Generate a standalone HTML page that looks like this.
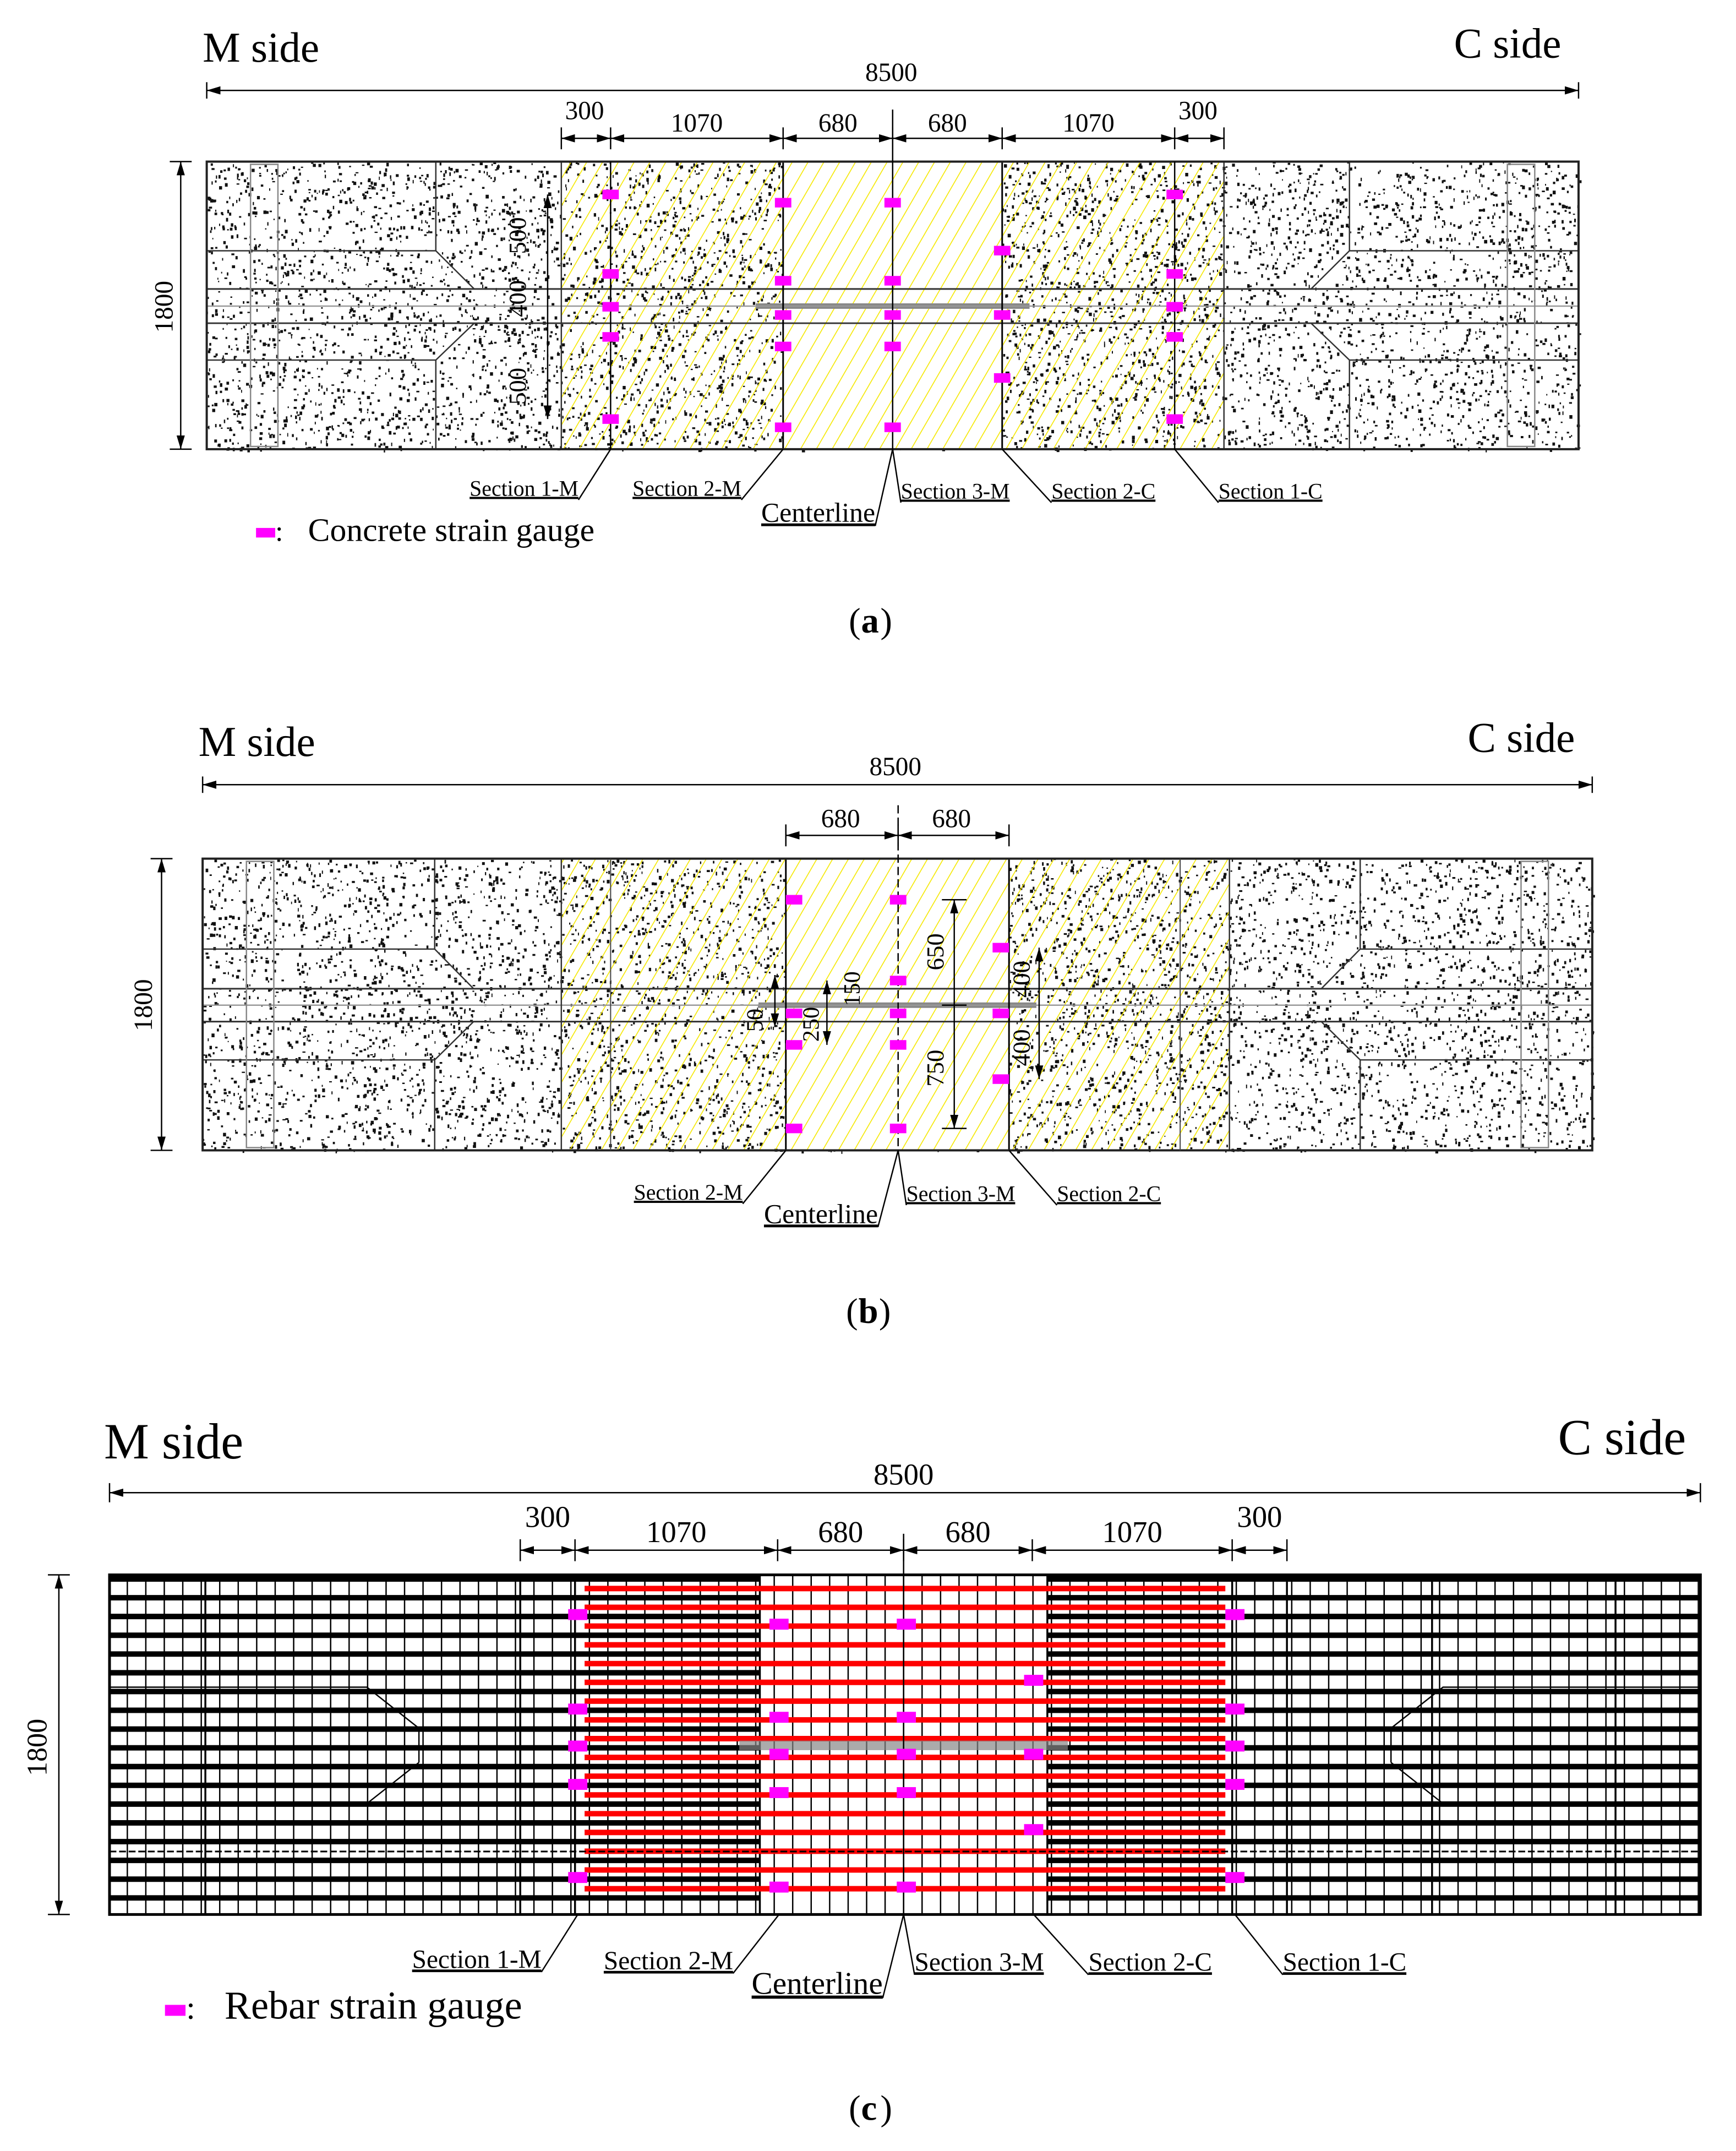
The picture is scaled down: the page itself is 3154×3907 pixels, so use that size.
<!DOCTYPE html>
<html><head><meta charset="utf-8"><style>
html,body{margin:0;padding:0;background:#fff}
svg{display:block}
text{font-family:"Liberation Serif",serif;fill:#000}
</style></head><body>
<svg id="s" xmlns="http://www.w3.org/2000/svg" width="3154" height="3907" viewBox="0 0 1268 1570.7">
<defs>
<marker id="ar" viewBox="0 0 10 6" refX="10" refY="3" markerWidth="10" markerHeight="6" orient="auto-start-reverse" markerUnits="userSpaceOnUse"><path d="M0,0L10,3L0,6z" fill="#000"/></marker>
<pattern id="hatch" patternUnits="userSpaceOnUse" width="10" height="10" patternTransform="rotate(30)"><line x1="0" y1="0" x2="0" y2="10" stroke="#f5e800" stroke-width="1.3"/></pattern>
</defs>
<rect width="1268" height="1571" fill="#fff"/>
<g id="ga"></g>
<g id="gb"></g>
<g id="gc"></g>
</svg>
<script>
const NS='http://www.w3.org/2000/svg';
function el(p,t,a){const e=document.createElementNS(NS,t);for(const k in a)e.setAttribute(k,a[k]);p.appendChild(e);return e;}
function tx(p,x,y,s,str,extra){const e=el(p,'text',Object.assign({x:x,y:y,'font-size':s},extra||{}));e.textContent=str;return e;}
let seed=7;function rnd(){seed=(seed*16807)%2147483647;return seed/2147483647;}
function speckle(p,x0,x1,y0,y1,n){let d='';for(let i=0;i<n;i++){const x=x0+rnd()*(x1-x0),y=y0+rnd()*(y1-y0),w=0.7+rnd()*1.6;d+=`M${x.toFixed(1)},${y.toFixed(1)}h${w.toFixed(1)}v${(0.9+rnd()*1.8).toFixed(1)}h-${w.toFixed(1)}z`;}el(p,'path',{d:d,fill:'#111'});}
function dimH(p,x1,x2,y){el(p,'line',{x1:x1,y1:y,x2:x2,y2:y,stroke:'#000','stroke-width':1,'marker-start':'url(#ar)','marker-end':'url(#ar)'});}
function tick(p,x,y,h){el(p,'line',{x1:x,y1:y-h,x2:x,y2:y+h,stroke:'#000','stroke-width':1});}
function gauge(p,x,y,w,h){const r=el(p,'rect',{x:x-w/2,y:y-h/2,width:w,height:h,fill:'#ff00ff'});}
function label(p,lx,ly,str,fx,fy,s){const t=tx(p,lx,ly,s,str,{'text-decoration':'underline'});let w=str.length*s*0.47;try{w=t.getComputedTextLength();}catch(e){}
  const ex=(lx+w/2<fx)?lx+w:lx;el(p,'line',{x1:fx,y1:fy,x2:ex,y2:ly+3,stroke:'#000','stroke-width':1});return t;}

function concretePanel(g,X0,X1,Y0,Y1,hz0,hz1,cz0,cz1,band0,band1){
  speckle(g,X0,X1,Y0,Y1,7000);
  el(g,'rect',{x:cz0,y:Y0,width:cz1-cz0,height:Y1-Y0,fill:'#fff'});
  el(g,'rect',{x:hz0,y:Y0,width:hz1-hz0,height:Y1-Y0,fill:'url(#hatch)'});
  el(g,'line',{x1:X0,y1:band0,x2:X1,y2:band0,stroke:'#333','stroke-width':1.2});
  el(g,'line',{x1:X0,y1:band1,x2:X1,y2:band1,stroke:'#333','stroke-width':1.2});
  el(g,'rect',{x:cz0-20,y:(band0+band1)/2-2,width:cz1-cz0+40,height:4,fill:'#888'});
  el(g,'line',{x1:X0,y1:(band0+band1)/2,x2:X1,y2:(band0+band1)/2,stroke:'#999','stroke-width':1});
  const W=X1-X0, h=Y1-Y0;
  [[1,X0],[-1,X1]].forEach(([s,xe])=>{
    const xa=xe+s*W*0.167, xb=xe+s*W*0.195;
    el(g,'path',{d:`M${xe},${Y0+h*0.31}H${xa}L${xb},${band0}M${xe},${Y1-h*0.31}H${xa}L${xb},${band1}M${xa},${Y0}V${Y0+h*0.31}M${xa},${Y1}V${Y1-h*0.31}`,fill:'none',stroke:'#333','stroke-width':1});
    const xc=xe+s*32;
    el(g,'rect',{x:Math.min(xc,xc+s*20),y:Y0+2,width:20,height:h-4,fill:'none',stroke:'#888','stroke-width':1});
  });
  [hz0,hz1].forEach(x=>el(g,'line',{x1:x,y1:Y0,x2:x,y2:Y1,stroke:'#333','stroke-width':1}));
  [cz0,cz1].forEach(x=>el(g,'line',{x1:x,y1:Y0,x2:x,y2:Y1,stroke:'#000','stroke-width':1.2}));
  el(g,'rect',{x:X0,y:Y0,width:W,height:h,fill:'none',stroke:'#222','stroke-width':1.6});
}

/* ---------- Panel (a) ---------- */
const A=document.getElementById('ga');
concretePanel(A,151,1153,118,328,410,894,572,732,211,236);
[446,858].forEach(x=>el(A,'line',{x1:x,y1:118,x2:x,y2:328,stroke:'#000','stroke-width':1}));
el(A,'line',{x1:652,y1:80,x2:652,y2:328,stroke:'#000','stroke-width':1});
const gaY1=[142,200,224,246,306], gaY2=[148,205,230,253,312], gaY3=[183,230,276];
gaY1.forEach(y=>{gauge(A,446,y,12,7);gauge(A,858,y,12,7);});
gaY2.forEach(y=>{gauge(A,572,y,12,7);gauge(A,652,y,12,7);});
gaY3.forEach(y=>gauge(A,732,y,12,7));
tx(A,148,45,31,'M side');tx(A,1062,42,31,'C side');
dimH(A,151,1153,66);tick(A,151,66,6);tick(A,1153,66,6);tx(A,651,59,19,'8500',{'text-anchor':'middle'});
const aT=[410,446,572,652,732,858,894], aL=['300','1070','680','680','1070','300'];
for(let i=0;i<6;i++){dimH(A,aT[i],aT[i+1],101);tx(A,(aT[i]+aT[i+1])/2+(i==0?-1:i==5?-1:0),i==0||i==5?87:96,19,aL[i],{'text-anchor':'middle'});}
aT.forEach(x=>tick(A,x,101,8));
el(A,'line',{x1:132,y1:118,x2:132,y2:328,stroke:'#000','marker-start':'url(#ar)','marker-end':'url(#ar)'});
el(A,'line',{x1:124,y1:118,x2:140,y2:118,stroke:'#000'});el(A,'line',{x1:124,y1:328,x2:140,y2:328,stroke:'#000'});
tx(A,126,224,19,'1800',{transform:'rotate(-90 126 224)','text-anchor':'middle'});
el(A,'line',{x1:400,y1:142,x2:400,y2:306,stroke:'#000','marker-start':'url(#ar)','marker-end':'url(#ar)'});
tx(A,384,172,18,'500',{transform:'rotate(-90 384 172)','text-anchor':'middle'});
tx(A,384,218,18,'400',{transform:'rotate(-90 384 218)','text-anchor':'middle'});
tx(A,384,282,18,'500',{transform:'rotate(-90 384 282)','text-anchor':'middle'});
label(A,343,362,'Section 1-M',446,328,16);
label(A,462,362,'Section 2-M',572,328,16);
label(A,658,364,'Section 3-M',652,328,16);
label(A,768,364,'Section 2-C',732,328,16);
label(A,890,364,'Section 1-C',858,328,16);
label(A,556,381,'Centerline',652,328,20);
gauge(A,194,389,14,7);tx(A,201,395,21,':');tx(A,225,395,24,'Concrete strain gauge');
tx(A,620,462,26,'(');tx(A,629,462,26,'a',{'font-weight':'bold'});tx(A,643,462,26,')');

/* ---------- Panel (b) ---------- */
const B=document.getElementById('gb');
concretePanel(B,148,1163,627,840,410,898,574,737,722,746);
[446,862].forEach(x=>el(B,'line',{x1:x,y1:627,x2:x,y2:840,stroke:'#444','stroke-width':0.8}));
el(B,'line',{x1:656,y1:588,x2:656,y2:840,stroke:'#000','stroke-width':1,'stroke-dasharray':'6,3'});
const gbY1=[657,740,763,824], gbY2=[657,716,740,763,824], gbY3=[692,740,788];
gbY1.forEach(y=>gauge(B,580,y,12,7));
gbY2.forEach(y=>gauge(B,656,y,12,7));
gbY3.forEach(y=>gauge(B,731,y,12,7));
tx(B,145,552,31,'M side');tx(B,1072,549,31,'C side');
dimH(B,148,1163,573);tick(B,148,573,6);tick(B,1163,573,6);tx(B,654,566,19,'8500',{'text-anchor':'middle'});
dimH(B,574,656,610);dimH(B,656,737,610);[574,656,737].forEach(x=>tick(B,x,610,8));
tx(B,614,604,19,'680',{'text-anchor':'middle'});tx(B,695,604,19,'680',{'text-anchor':'middle'});
el(B,'line',{x1:118,y1:627,x2:118,y2:840,stroke:'#000','marker-start':'url(#ar)','marker-end':'url(#ar)'});
el(B,'line',{x1:110,y1:627,x2:126,y2:627,stroke:'#000'});el(B,'line',{x1:110,y1:840,x2:126,y2:840,stroke:'#000'});
tx(B,111,734,19,'1800',{transform:'rotate(-90 111 734)','text-anchor':'middle'});
el(B,'line',{x1:697,y1:657,x2:697,y2:824,stroke:'#000','marker-start':'url(#ar)','marker-end':'url(#ar)'});
[657,734,824].forEach(y=>el(B,'line',{x1:688,y1:y,x2:706,y2:y,stroke:'#000'}));
tx(B,689,695,18,'650',{transform:'rotate(-90 689 695)','text-anchor':'middle'});
tx(B,689,780,18,'750',{transform:'rotate(-90 689 780)','text-anchor':'middle'});
el(B,'line',{x1:759,y1:692,x2:759,y2:788,stroke:'#000','marker-start':'url(#ar)','marker-end':'url(#ar)'});
tx(B,752,715,18,'400',{transform:'rotate(-90 752 715)','text-anchor':'middle'});
tx(B,752,765,18,'400',{transform:'rotate(-90 752 765)','text-anchor':'middle'});
el(B,'line',{x1:604,y1:716,x2:604,y2:763,stroke:'#000','marker-start':'url(#ar)','marker-end':'url(#ar)'});
tx(B,628,722,17,'150',{transform:'rotate(-90 628 722)','text-anchor':'middle'});
tx(B,598,748,17,'250',{transform:'rotate(-90 598 748)','text-anchor':'middle'});
el(B,'line',{x1:566,y1:712,x2:566,y2:750,stroke:'#000','marker-start':'url(#ar)','marker-end':'url(#ar)'});
tx(B,557,745,17,'50',{transform:'rotate(-90 557 745)','text-anchor':'middle'});
label(B,463,876,'Section 2-M',574,840,16);
label(B,662,877,'Section 3-M',656,840,16);
label(B,772,877,'Section 2-C',737,840,16);
label(B,558,893,'Centerline',656,840,20);
tx(B,618,966,26,'(');tx(B,627,966,26,'b',{'font-weight':'bold'});tx(B,642,966,26,')');

/* ---------- Panel (c) ---------- */
const C=document.getElementById('gc');
const X0=80,X1=1242,Y0=1150,Y1=1398;
for(let x=X0+13;x<X1;x+=13.5){el(C,'line',{x1:x,y1:Y0,x2:x,y2:Y1,stroke:'#000','stroke-width':1});}
[150,380,420,555,765,900,940,1046,1180].forEach(x=>el(C,'line',{x1:x,y1:Y0,x2:x,y2:Y1,stroke:'#000','stroke-width':1.4}));
for(let k=0;k<18;k++){const y=Y0+3+13.7*k;
  el(C,'line',{x1:X0,y1:y,x2:555,y2:y,stroke:'#000','stroke-width':4});
  el(C,'line',{x1:765,y1:y,x2:X1,y2:y,stroke:'#000','stroke-width':4});}
for(let k=0;k<17;k++){const y=Y0+10+13.7*k;
  el(C,'line',{x1:427,y1:y,x2:895,y2:y,stroke:'#ff0000','stroke-width':4});}
el(C,'line',{x1:X0,y1:1352,x2:X1,y2:1352,stroke:'#000','stroke-width':1.2,'stroke-dasharray':'5,2'});
el(C,'rect',{x:540,y:1271,width:240,height:7,fill:'#888',opacity:0.7});
el(C,'path',{d:'M80,1232H268L306,1262M80,1317H268L306,1287M306,1262V1287',fill:'none',stroke:'#000','stroke-width':1});
el(C,'path',{d:'M1242,1232H1054L1016,1262M1242,1317H1054L1016,1287M1016,1262V1287',fill:'none',stroke:'#000','stroke-width':1});
el(C,'line',{x1:660,y1:1120,x2:660,y2:Y1,stroke:'#000','stroke-width':1});
el(C,'rect',{x:X0,y:Y0,width:X1-X0,height:Y1-Y0,fill:'none',stroke:'#000','stroke-width':2});
const gcY1=[1179,1248,1275,1303,1371], gcY2=[1186,1254,1281,1309,1378], gcY3=[1227,1281,1336];
gcY1.forEach(y=>{gauge(C,422,y,14,8);gauge(C,902,y,14,8);});
gcY2.forEach(y=>{gauge(C,569,y,14,8);gauge(C,662,y,14,8);});
gcY3.forEach(y=>gauge(C,755,y,14,8));
tx(C,76,1065,37,'M side');tx(C,1138,1062,37,'C side');
dimH(C,80,1242,1090);tick(C,80,1090,7);tick(C,1242,1090,7);tx(C,660,1084,22,'8500',{'text-anchor':'middle'});
const cT=[380,420,568,660,754,900,940], cL=['300','1070','680','680','1070','300'];
for(let i=0;i<6;i++){dimH(C,cT[i],cT[i+1],1132);tx(C,(cT[i]+cT[i+1])/2,i==0||i==5?1115:1126,22,cL[i],{'text-anchor':'middle'});}
cT.forEach(x=>tick(C,x,1132,8));
el(C,'line',{x1:43,y1:1150,x2:43,y2:1398,stroke:'#000','marker-start':'url(#ar)','marker-end':'url(#ar)'});
el(C,'line',{x1:35,y1:1150,x2:51,y2:1150,stroke:'#000'});el(C,'line',{x1:35,y1:1398,x2:51,y2:1398,stroke:'#000'});
tx(C,34,1276,21,'1800',{transform:'rotate(-90 34 1276)','text-anchor':'middle'});
label(C,301,1437,'Section 1-M',422,1398,19);
label(C,441,1438,'Section 2-M',569,1398,19);
label(C,668,1439,'Section 3-M',660,1398,19);
label(C,795,1439,'Section 2-C',755,1398,19);
label(C,937,1439,'Section 1-C',902,1398,19);
label(C,549,1456,'Centerline',660,1398,23);
gauge(C,128,1468,15,8);tx(C,136,1474,24,':');tx(C,164,1474,29,'Rebar strain gauge');
tx(C,620,1548,26,'(');tx(C,629,1548,26,'c',{'font-weight':'bold'});tx(C,643,1548,26,')');
</script>
</body></html>
